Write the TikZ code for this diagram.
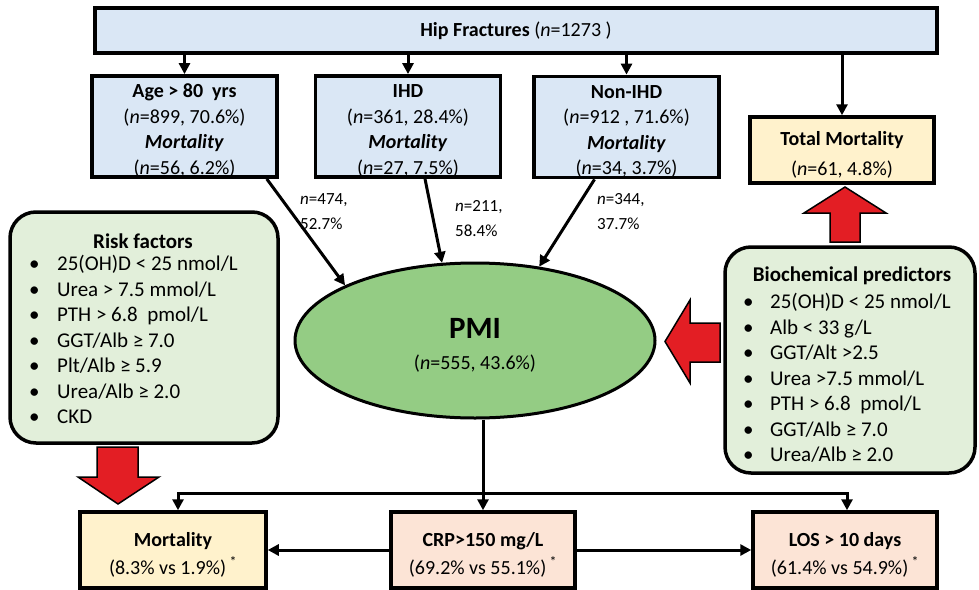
\documentclass[tikz,border=0pt]{standalone}
\usepackage{fontspec}
\setmainfont{Carlito}
\usepackage{tikz}
\usetikzlibrary{shapes,arrows.meta}

\definecolor{boxblue}{HTML}{DAE7F5}
\definecolor{boxyellow}{HTML}{FFF2CC}
\definecolor{boxpeach}{HTML}{FCE4D6}
\definecolor{boxgreen}{HTML}{E2EFDA}
\definecolor{pmigreen}{HTML}{94CC84}
\definecolor{arrowred}{HTML}{E31E24}

% pushes the text of a box a little down
\newcommand{\drop}[1]{\rule{0pt}{#1}}

\begin{document}
\begin{tikzpicture}[x=1pt, y=-1pt,
    box/.style={draw, line width=3.5pt, align=center, inner sep=0pt,
        font=\fontsize{20}{25.5}\selectfont},
    greenbox/.style={draw, line width=3.5pt, fill=boxgreen, rounded corners=26pt},
    listtext/.style={align=left, inner sep=0pt, font=\fontsize{21}{25.5}\selectfont},
    lbl/.style={align=left, inner sep=0pt, font=\fontsize{17}{25}\selectfont},
    arr/.style={line width=3pt, -{Triangle[length=11pt,width=11pt]}},
    redarrow/.style={draw, line width=1.5pt, fill=arrowred, line join=miter}]
    \useasboundingbox (0,0) rectangle (979,589);

    % Top bar
    \node[box, fill=boxblue, minimum width=842, minimum height=45] (hip) at (516,30.5)
        {\textbf{Hip Fractures} (\textit{n}=1273 )};

    % Groups
    \node[box, fill=boxblue, minimum width=185, minimum height=99] (age) at (184.5,126.5)
        {\drop{22pt}\textbf{Age > 80 \ yrs}\\(\textit{n}=899, 70.6\%)\\\textbf{\textit{Mortality}}\\(\textit{n}=56, 6.2\%)};
    \node[box, fill=boxblue, minimum width=185, minimum height=99] (ihd) at (408,126.5)
        {\drop{22pt}\textbf{IHD}\\(\textit{n}=361, 28.4\%)\\\textbf{\textit{Mortality}}\\(\textit{n}=27, 7.5\%)};
    \node[box, fill=boxblue, minimum width=185, minimum height=98] (nonihd) at (626.5,127)
        {\drop{22pt}\textbf{Non-IHD}\\(\textit{n}=912 , 71.6\%)\\\textbf{\textit{Mortality}}\\(\textit{n}=34, 3.7\%)};
    \node[box, fill=boxyellow, minimum width=184, minimum height=66] (total) at (842,150)
        {\drop{24pt}\textbf{Total Mortality}\\[4pt](\textit{n}=61, 4.8\%)};

    \draw[arr] (hip.south -| age.north) -- (age.north);
    \draw[arr] (hip.south -| ihd.north) -- (ihd.north);
    \draw[arr] (hip.south -| nonihd.north) -- (nonihd.north);
    \draw[arr] (hip.south -| total.north) -- (total.north);

    % PMI
    \node[ellipse, draw, line width=3pt, fill=pmigreen, minimum width=360, minimum height=155,
        inner sep=0pt, align=center, font=\fontsize{20}{24}\selectfont] (pmi) at (475,340.5)
        {{\fontsize{31}{34}\selectfont\bfseries\drop{30pt}PMI}\\[7pt](\textit{n}=555, 43.6\%)};

    \draw[arr] ([xshift=-12pt]age.south east) -- (pmi.157);
    \draw[arr] ([xshift=17pt]ihd.south) -- (pmi.113);
    \draw[arr] ([xshift=-32pt]nonihd.south) -- (pmi.49);

    \node[lbl, anchor=north west] (lbl474) at (300,193) {\textit{n}=474,\\52.7\%};
    \node[lbl, anchor=north west] (lbl211) at (455,200) {\textit{n}=211,\\58.4\%};
    \node[lbl, anchor=north west] (lbl344) at (597,193) {\textit{n}=344,\\37.7\%};

    % Risk factors
    \node[greenbox, minimum width=268, minimum height=231] (risk) at (144,327.5) {};
    \node[listtext, font=\fontsize{21}{25}\selectfont\bfseries] (risktitle) at (143,241) {Risk factors};
    \node[listtext, anchor=north west] (risklist) at (29,255)
        {\makebox[28pt][l]{•}25(OH)D < 25 nmol/L\\
         \makebox[28pt][l]{•}Urea > 7.5 mmol/L\\
         \makebox[28pt][l]{•}PTH > 6.8 \ pmol/L\\
         \makebox[28pt][l]{•}GGT/Alb ≥ 7.0\\
         \makebox[28pt][l]{•}Plt/Alb ≥ 5.9\\
         \makebox[28pt][l]{•}Urea/Alb ≥ 2.0\\
         \makebox[28pt][l]{•}CKD};

    % Biochemical predictors
    \node[greenbox, minimum width=250, minimum height=226] (bio) at (850,360) {};
    \node[listtext, font=\fontsize{21}{25}\selectfont\bfseries] (biotitle) at (852,276) {Biochemical predictors};
    \node[listtext, anchor=north west] (biolist) at (743,293)
        {\makebox[27pt][l]{•}25(OH)D < 25 nmol/L\\
         \makebox[27pt][l]{•}Alb < 33 g/L\\
         \makebox[27pt][l]{•}GGT/Alt >2.5\\
         \makebox[27pt][l]{•}Urea >7.5 mmol/L\\
         \makebox[27pt][l]{•}PTH > 6.8 \ pmol/L\\
         \makebox[27pt][l]{•}GGT/Alb ≥ 7.0\\
         \makebox[27pt][l]{•}Urea/Alb ≥ 2.0};

    % Red block arrows
    \draw[redarrow] (830,242) -- (830,213) -- (804,213) -- (845,187) -- (886,213)
        -- (860,213) -- (860,242) -- cycle;
    \draw[redarrow] (720,323) -- (690,323) -- (690,300) -- (665,341.5) -- (690,383)
        -- (690,362) -- (720,362) -- cycle;
    \draw[redarrow] (97,447) -- (138,447) -- (138,477) -- (159,477) -- (118,504)
        -- (78,477) -- (97,477) -- cycle;

    % Outcomes
    \node[box, fill=boxyellow, minimum width=186, minimum height=76] (mort) at (173,550)
        {\drop{24pt}\textbf{Mortality}\\[2pt](8.3\% vs 1.9\%)\,\textsuperscript{*}};
    \node[box, fill=boxpeach, minimum width=184, minimum height=76] (crp) at (483,550)
        {\drop{24pt}\textbf{CRP>150 mg/L}\\[2pt](69.2\% vs 55.1\%)\,\textsuperscript{*}};
    \node[box, fill=boxpeach, minimum width=184, minimum height=76] (los) at (845,550)
        {\drop{24pt}\textbf{LOS > 10 days}\\[2pt](61.4\% vs 54.9\%)\,\textsuperscript{*}};

    \coordinate (split) at (483,493);
    \draw[arr] (crp.north |- pmi.south) -- (crp.north);
    \draw[arr] (split) -| ([xshift=5pt]mort.north);
    \draw[arr] (split) -| ([xshift=2pt]los.north);
    \draw[arr] (crp.west) -- (mort.east);
    \draw[arr] (crp.east) -- (los.west);
\end{tikzpicture}
\end{document}
